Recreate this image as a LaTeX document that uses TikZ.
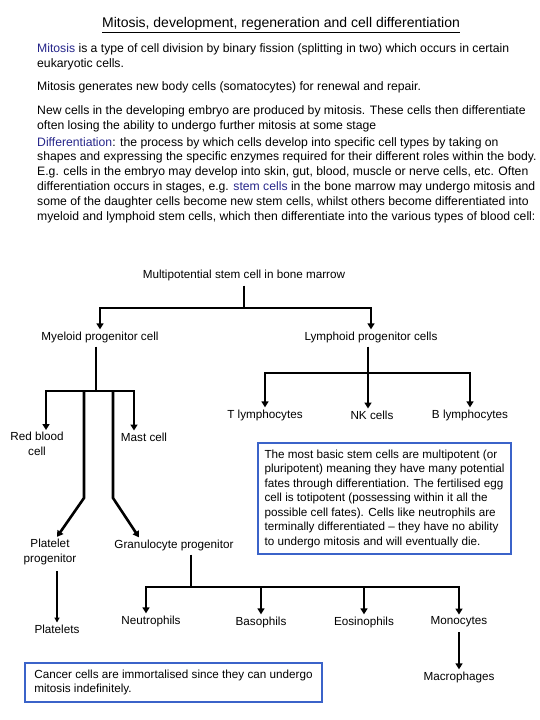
\documentclass[tikz,border=0pt]{standalone}
\usepackage{fontspec}
\setmainfont{Liberation Sans}
\usepackage{tikz}
\usetikzlibrary{arrows.meta}
\definecolor{termblue}{HTML}{26268A}
\definecolor{boxblue}{HTML}{3B63C9}

\begin{document}
\begin{tikzpicture}[x=1pt, y=-1pt,
        every node/.style={font=\fontsize{11.7}{15}\selectfont, inner sep=2pt},
        para/.style={anchor=base west, align=left, inner sep=0pt, font=\fontsize{12.2}{14.8}\selectfont},
        cell/.style={align=center},
        wire/.style={line width=2.6pt},
        tip/.style={wire, -{Triangle[length=6pt, width=7pt]}},
        thintip/.style={line width=1.2pt, -{Triangle[length=5pt, width=5pt]}},
        notebox/.style={draw=boxblue, line width=2.6pt, align=left, inner sep=0pt, font=\fontsize{11.7}{14.5}\selectfont}
    ]
        \useasboundingbox (0,0) rectangle (540,720);

        % heading and text (base = last line)
        \node (title) at (281,25) {\fontsize{14}{16}\selectfont\underline{Mitosis, development, regeneration and cell differentiation}};
        \node (intro) [para] at (37,67) {\textcolor{termblue}{Mitosis} is a type of cell division by binary fission (splitting in two) which occurs in certain\\eukaryotic cells.};
        \node (renew) [para] at (37,90) {Mitosis generates new body cells (somatocytes) for renewal and repair.};
        \node (embryo) [para] at (37,129) {New cells in the developing embryo are produced by mitosis. These cells then differentiate\\often losing the ability to undergo further mitosis at some stage};
        \node (diff) [para] at (37,220) {\textcolor{termblue}{Differentiation}: the process by which cells develop into specific cell types by taking on\\shapes and expressing the specific enzymes required for their different roles within the body.\\E.g. cells in the embryo may develop into skin, gut, blood, muscle or nerve cells, etc. Often\\differentiation occurs in stages, e.g. \textcolor{termblue}{stem cells} in the bone marrow may undergo mitosis and\\some of the daughter cells become new stem cells, whilst others become differentiated into\\myeloid and lymphoid stem cells, which then differentiate into the various types of blood cell:};

        % cells
        \node (stem) [cell] at (244,275) {Multipotential stem cell in bone marrow};
        \node (myeloid) [cell] at (100,337) {Myeloid progenitor cell};
        \node (lymphoid) [cell] at (371,337) {Lymphoid progenitor cells};
        \node (tlym) [cell] at (265,415) {T lymphocytes};
        \node (nk) [cell] at (372,415) {NK cells};
        \node (blym) [cell] at (470,415) {B lymphocytes};
        \node (rbc) [cell] at (37,444) {Red blood\\cell};
        \node (mast) [cell] at (144,437) {Mast cell};
        \node (platprog) [cell] at (50,552) {Platelet\\progenitor};
        \node (granprog) [cell] at (174,545) {Granulocyte progenitor};
        \node (platelets) [cell] at (57,629) {Platelets};
        \node (neutro) [cell] at (151,621) {Neutrophils};
        \node (baso) [cell] at (261,622) {Basophils};
        \node (eosino) [cell] at (364,622) {Eosinophils};
        \node (mono) [cell] at (459,622) {Monocytes};
        \node (macro) [cell] at (459,677) {Macrophages};

        % notes
        \node (totinote) [notebox, minimum width=253pt, minimum height=111pt] at (384.5,498.5) {The most basic stem cells are multipotent (or\\pluripotent) meaning they have many potential\\fates through differentiation. The fertilised egg\\cell is totipotent (possessing within it all the\\possible cell fates). Cells like neutrophils are\\terminally differentiated -- they have no ability\\to undergo mitosis and will eventually die.};
        \node (cancernote) [notebox, minimum width=297pt, minimum height=39pt] at (173.5,682.5) {Cancer cells are immortalised since they can undergo\\mitosis indefinitely.};

        % branch points
        \coordinate (stembus) at (244,308);
        \coordinate (mybus) at (96,391);
        \coordinate (platbranch) at (84,391);
        \coordinate (platbend) at (84,498);
        \coordinate (granbranch) at (113,391);
        \coordinate (granbend) at (113,498);
        \coordinate (lymbus) at (368,373);
        \coordinate (granbus) at (191,587);

        \draw [wire, shorten <=3pt] (stem.south) -- (stembus);
        \draw [tip] (stembus) -| (myeloid.north);
        \draw [tip] (stembus) -| (lymphoid.north);

        \draw [wire, shorten <=2pt] (myeloid.south -| mybus) -- (mybus);
        \draw [tip] (mybus) -| ([xshift=9pt]rbc.north);
        \draw [tip] (mybus) -| ([xshift=-10pt]mast.north);
        \draw [tip] (platbranch) -- (platbend) -- ([xshift=7pt]platprog.north);
        \draw [tip] (granbranch) -- (granbend) -- ([xshift=-35pt]granprog.north);
        \draw [thintip, shorten <=4pt] (platprog.south -| platelets) -- (platelets);

        \draw [wire, shorten <=2pt] (lymphoid.south -| lymbus) -- (lymbus);
        \draw [tip] (lymbus) -| (tlym.north);
        \draw [tip] (lymbus) -- (lymbus |- nk.north);
        \draw [tip] (lymbus) -| (blym.north);

        \draw [wire, shorten <=2pt] (granprog.south -| granbus) -- (granbus);
        \draw [tip] (granbus) -| ([xshift=-5pt]neutro.north);
        \draw [tip] (granbus) -| (baso.north);
        \draw [tip] (granbus) -| (eosino.north);
        \draw [tip] (granbus) -| (mono.north);
        \draw [tip, shorten <=3pt] (mono.south) -- (macro.north);
    \end{tikzpicture}
\end{document}
